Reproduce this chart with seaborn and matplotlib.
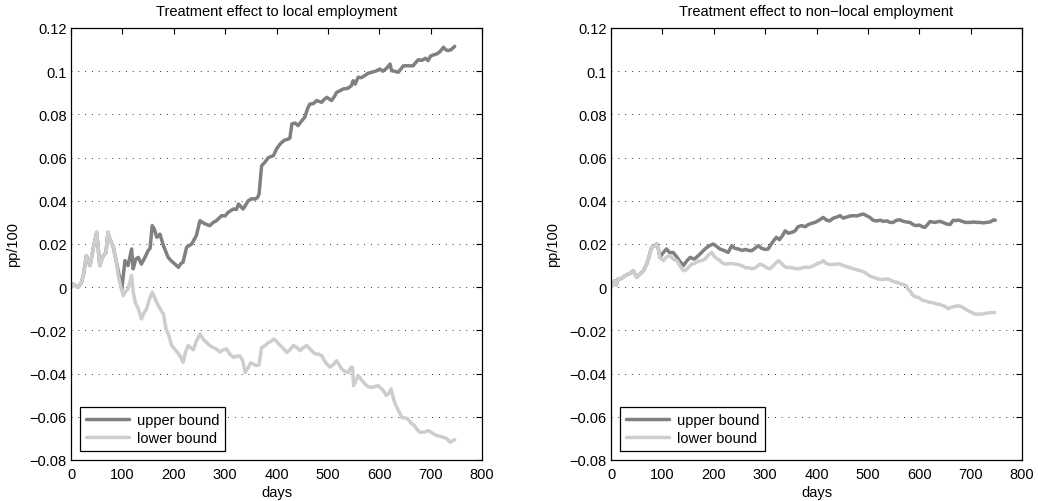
import matplotlib
matplotlib.use("Agg")
import matplotlib.pyplot as plt
from matplotlib.ticker import FuncFormatter, MultipleLocator
import pandas as pd
import seaborn as sns

# ---------------------------------------------------------------------------
# Data: treatment-effect bounds (pp/100) by days since treatment
# ---------------------------------------------------------------------------
# Local employment: both bounds coincide over the first weeks
local_shared_days = [0, 4, 10, 14, 20, 24, 30, 37, 43, 50, 53, 56, 60, 63, 68, 72, 76]
local_shared_values = [0.000, 0.0015, 0.0005, 0.000, 0.002, 0.0054, 0.0146, 0.010, 0.0177,
                       0.0254, 0.018, 0.010, 0.013, 0.0146, 0.016, 0.0254, 0.022]

local_upper_days = [82, 88, 95, 99, 105, 111, 118, 121, 126, 131, 137, 144, 150, 154, 158,
                    162, 167, 173, 180, 189, 196, 202, 209, 214, 218, 225, 235, 244, 251,
                    256, 261, 270, 277, 283, 293, 300, 306, 316, 322, 326, 335, 345, 352,
                    358, 363, 366, 371, 378, 384, 394, 400, 407, 415, 423, 426, 430, 436,
                    442, 449, 455, 461, 465, 472, 478, 483, 488, 493, 498, 507, 512, 517,
                    524, 530, 538, 546, 549, 553, 559, 565, 572, 578, 585, 593, 601, 607,
                    614, 621, 624, 630, 637, 642, 647, 654, 660, 666, 671, 676, 683, 690,
                    695, 700, 705, 712, 718, 725, 729, 734, 740, 747]
local_upper_values = [0.019, 0.012, 0.004, -0.0008, 0.0123, 0.010, 0.0177, 0.0085, 0.013,
                      0.0138, 0.0107, 0.0138, 0.0169, 0.018, 0.0285, 0.027, 0.0231, 0.0246,
                      0.0192, 0.0138, 0.012, 0.0108, 0.0092, 0.011, 0.0115, 0.0185, 0.020,
                      0.0239, 0.0308, 0.030, 0.0293, 0.0285, 0.030, 0.0308, 0.0331, 0.033,
                      0.0347, 0.0362, 0.036, 0.0385, 0.0362, 0.040, 0.041, 0.0408, 0.0415,
                      0.043, 0.0562, 0.058, 0.060, 0.0609, 0.064, 0.0663, 0.068, 0.0686,
                      0.069, 0.0756, 0.076, 0.0748, 0.077, 0.0787, 0.083, 0.0848, 0.085,
                      0.0864, 0.086, 0.0856, 0.087, 0.0879, 0.0864, 0.088, 0.0902, 0.091,
                      0.0918, 0.092, 0.0933, 0.0956, 0.094, 0.0972, 0.097, 0.098, 0.099,
                      0.0995, 0.100, 0.101, 0.100, 0.1013, 0.1033, 0.1002, 0.100, 0.0995,
                      0.101, 0.1025, 0.1025, 0.1025, 0.1025, 0.104, 0.1053, 0.105, 0.106,
                      0.1049, 0.107, 0.1075, 0.108, 0.109, 0.1111, 0.110, 0.1095, 0.110,
                      0.1115]

local_lower_days = [82, 88, 92, 97, 102, 106, 111, 118, 121, 125, 131, 137, 142, 147, 152,
                    158, 163, 170, 176, 180, 185, 190, 196, 203, 212, 218, 223, 228, 233,
                    238, 244, 251, 257, 264, 270, 277, 283, 290, 296, 303, 309, 316, 322,
                    329, 334, 339, 345, 350, 355, 361, 366, 371, 378, 384, 390, 394, 400,
                    404, 412, 420, 426, 433, 440, 446, 452, 459, 467, 475, 482, 488, 493,
                    498, 504, 510, 517, 522, 527, 533, 540, 545, 548, 550, 555, 559, 566,
                    572, 578, 585, 591, 598, 604, 608, 614, 619, 623, 627, 631, 637, 644,
                    650, 656, 662, 668, 673, 678, 683, 690, 695, 700, 706, 712, 718, 725,
                    731, 738, 743, 747]
local_lower_values = [0.0192, 0.012, 0.0054, 0.000, -0.0039, -0.002, -0.0008, 0.0054,
                      -0.002, -0.0070, -0.010, -0.0147, -0.012, -0.0101, -0.006, -0.0024,
                      -0.005, -0.0086, -0.011, -0.0124, -0.0194, -0.022, -0.027, -0.029,
                      -0.0317, -0.0348, -0.030, -0.027, -0.028, -0.029, -0.025, -0.0217,
                      -0.024, -0.0256, -0.027, -0.028, -0.0286, -0.030, -0.029, -0.0286,
                      -0.031, -0.0325, -0.032, -0.0318, -0.034, -0.0395, -0.037, -0.035,
                      -0.0356, -0.0363, -0.036, -0.0279, -0.027, -0.0256, -0.025, -0.024,
                      -0.025, -0.0263, -0.028, -0.0302, -0.029, -0.027, -0.028, -0.0294,
                      -0.028, -0.027, -0.029, -0.0309, -0.031, -0.0317, -0.034, -0.0356,
                      -0.037, -0.036, -0.034, -0.036, -0.0379, -0.039, -0.0395, -0.037,
                      -0.0371, -0.0456, -0.043, -0.041, -0.043, -0.0448, -0.046, -0.0464,
                      -0.046, -0.0456, -0.047, -0.0479, -0.0502, -0.049, -0.0471, -0.051,
                      -0.0541, -0.057, -0.0603, -0.0605, -0.061, -0.063, -0.064, -0.0656,
                      -0.067, -0.0672, -0.067, -0.0664, -0.067, -0.068, -0.0687, -0.069,
                      -0.0695, -0.070, -0.0718, -0.071, -0.0706]

# Non-local employment: both bounds coincide over the first three months
nonlocal_shared_days = [0, 4, 7, 10, 14, 20, 27, 33, 38, 43, 47, 50, 56, 63, 70, 75, 79,
                        84, 89, 92, 95]
nonlocal_shared_values = [0.000, 0.0015, 0.003, 0.001, 0.0038, 0.004, 0.0053, 0.006,
                          0.0065, 0.0076, 0.006, 0.0046, 0.006, 0.0076, 0.011, 0.015,
                          0.0184, 0.019, 0.020, 0.018, 0.0138]

nonlocal_upper_days = [102, 108, 114, 121, 128, 134, 141, 147, 154, 162, 170, 176, 183, 190,
                       199, 205, 212, 220, 228, 235, 241, 248, 255, 262, 268, 274, 280, 287,
                       293, 300, 306, 312, 318, 322, 328, 334, 339, 345, 352, 358, 364, 371,
                       378, 384, 390, 397, 405, 413, 420, 426, 433, 440, 446, 452, 459, 466,
                       472, 478, 485, 491, 498, 504, 510, 517, 524, 530, 537, 543, 549, 556,
                       562, 569, 575, 582, 588, 594, 600, 606, 611, 616, 621, 630, 640, 646,
                       653, 660, 666, 672, 676, 683, 690, 699, 706, 712, 718, 725, 731, 738,
                       745, 748]
nonlocal_upper_values = [0.0161, 0.0177, 0.016, 0.0161, 0.014, 0.012, 0.010, 0.012, 0.0138,
                         0.013, 0.0146, 0.016, 0.0177, 0.019, 0.020, 0.019, 0.0177, 0.017,
                         0.0161, 0.0192, 0.018, 0.0177, 0.017, 0.0175, 0.017, 0.0169, 0.018,
                         0.0192, 0.018, 0.0175, 0.0177, 0.020, 0.022, 0.0231, 0.022, 0.024,
                         0.0261, 0.025, 0.0254, 0.026, 0.028, 0.0285, 0.028, 0.029, 0.0295,
                         0.030, 0.031, 0.0323, 0.031, 0.0307, 0.032, 0.0325, 0.0331, 0.032,
                         0.0325, 0.033, 0.0331, 0.033, 0.0335, 0.0339, 0.033, 0.0323, 0.031,
                         0.0307, 0.031, 0.0305, 0.0307, 0.030, 0.030, 0.031, 0.0312, 0.0305,
                         0.0302, 0.030, 0.029, 0.0285, 0.0288, 0.028, 0.0277, 0.029, 0.0304,
                         0.030, 0.0305, 0.030, 0.0293, 0.029, 0.031, 0.0308, 0.0311, 0.0305,
                         0.030, 0.030, 0.0302, 0.030, 0.030, 0.0298, 0.030, 0.0302, 0.0312,
                         0.031]

nonlocal_lower_days = [102, 108, 115, 121, 128, 134, 140, 144, 150, 157, 163, 170, 176, 183,
                       190, 196, 202, 208, 212, 218, 225, 233, 241, 248, 254, 262, 268, 274,
                       281, 290, 297, 303, 309, 316, 322, 326, 332, 338, 342, 348, 355, 364,
                       370, 377, 387, 395, 402, 409, 413, 419, 426, 433, 440, 446, 452, 459,
                       466, 472, 480, 487, 494, 498, 505, 512, 520, 527, 533, 539, 546, 551,
                       556, 561, 565, 570, 575, 578, 583, 588, 594, 598, 603, 608, 614, 620,
                       627, 634, 640, 646, 653, 656, 660, 667, 675, 682, 689, 695, 701, 708,
                       715, 724, 731, 738, 747]
nonlocal_lower_values = [0.0123, 0.014, 0.0146, 0.013, 0.0123, 0.010, 0.008, 0.0076, 0.009,
                         0.0107, 0.011, 0.012, 0.0123, 0.013, 0.015, 0.0161, 0.014, 0.013,
                         0.0123, 0.011, 0.0107, 0.011, 0.0107, 0.0105, 0.010, 0.009, 0.009,
                         0.0085, 0.009, 0.0107, 0.010, 0.009, 0.0085, 0.010, 0.0115, 0.0123,
                         0.011, 0.0095, 0.0092, 0.0092, 0.0088, 0.0085, 0.0088, 0.0092,
                         0.0092, 0.010, 0.011, 0.0115, 0.0123, 0.011, 0.0105, 0.0105, 0.0108,
                         0.0107, 0.010, 0.0095, 0.009, 0.0085, 0.008, 0.0075, 0.0069, 0.0061,
                         0.005, 0.0045, 0.0038, 0.0035, 0.0038, 0.0038, 0.003, 0.0025,
                         0.0023, 0.0018, 0.0015, 0.0012, 0.0007, -0.0008, -0.002, -0.0039,
                         -0.0045, -0.0047, -0.0055, -0.0062, -0.0065, -0.007, -0.0072,
                         -0.0078, -0.008, -0.0085, -0.0093, -0.010, -0.0095, -0.009, -0.0086,
                         -0.009, -0.010, -0.0109, -0.0115, -0.0124, -0.0125, -0.0124, -0.012,
                         -0.0118, -0.0117]

panel_titles = ["Treatment effect to local employment",
                "Treatment effect to non\u2212local employment"]
series_labels = ["upper bound", "lower bound"]
x_label = "days"
y_label = "pp/100"

# ---------------------------------------------------------------------------
# Styling
# ---------------------------------------------------------------------------
sns.set_style("white")
plt.rcParams["font.family"] = ["Liberation Sans", "DejaVu Sans"]
plt.rcParams.update({
    "font.size": 10.5,
    "axes.edgecolor": "black",
    "axes.linewidth": 0.9,
    "xtick.color": "black",
    "ytick.color": "black",
    "text.color": "black",
    "axes.labelcolor": "black",
})

UPPER_COLOR = "#808080"
LOWER_COLOR = "#cdcdcd"
LINE_WIDTH = 2.5


def tick_fmt(v, _pos):
    v = round(v, 6)
    if v == 0:
        return "0"
    return ("%g" % v).replace("-", "\u2212")


def build_frame(shared_d, shared_v, upper_d, upper_v, lower_d, lower_v):
    upper = pd.DataFrame({"day": shared_d + upper_d, "value": shared_v + upper_v,
                          "bound": series_labels[0]})
    lower = pd.DataFrame({"day": shared_d + lower_d, "value": shared_v + lower_v,
                          "bound": series_labels[1]})
    return upper, lower


panels = [
    build_frame(local_shared_days, local_shared_values, local_upper_days,
                local_upper_values, local_lower_days, local_lower_values),
    build_frame(nonlocal_shared_days, nonlocal_shared_values, nonlocal_upper_days,
                nonlocal_upper_values, nonlocal_lower_days, nonlocal_lower_values),
]

fig = plt.figure(figsize=(10.38, 5.02), dpi=100)
axes = [fig.add_axes([71 / 1038, 41 / 502, 411 / 1038, 432 / 502]),
        fig.add_axes([611 / 1038, 41 / 502, 411 / 1038, 432 / 502])]

for ax, (upper, lower), title in zip(axes, panels, panel_titles):
    sns.lineplot(data=upper, x="day", y="value", ax=ax, color=UPPER_COLOR,
                 linewidth=LINE_WIDTH, label=series_labels[0], estimator=None)
    sns.lineplot(data=lower, x="day", y="value", ax=ax, color=LOWER_COLOR,
                 linewidth=LINE_WIDTH, label=series_labels[1], estimator=None)

    ax.set_xlim(0, 800)
    ax.set_ylim(-0.08, 0.12)
    ax.xaxis.set_major_locator(MultipleLocator(100))
    ax.yaxis.set_major_locator(MultipleLocator(0.02))
    ax.yaxis.set_major_formatter(FuncFormatter(tick_fmt))
    ax.xaxis.set_major_formatter(FuncFormatter(tick_fmt))
    ax.tick_params(direction="in", length=4, width=0.8, top=True, right=True,
                   labelsize=10.5)
    ax.tick_params(axis="x", pad=5)
    ax.tick_params(axis="y", pad=3)

    ax.yaxis.grid(True, linestyle=(0, (1, 6)), linewidth=0.7, color="#303030")
    ax.xaxis.grid(False)
    ax.set_axisbelow(True)
    for spine in ax.spines.values():
        spine.set_visible(True)
        spine.set_color("black")

    ax.set_title(title, fontsize=10.5, pad=9)
    ax.set_xlabel(x_label, fontsize=10.5, labelpad=3)
    ax.set_ylabel(y_label, fontsize=10.5, labelpad=7)

    leg = ax.legend(loc="lower left", fontsize=10.5, frameon=True, fancybox=False,
                    edgecolor="black", framealpha=1, borderaxespad=0.6,
                    handlelength=3.0, handletextpad=0.5, labelspacing=0.3,
                    borderpad=0.4)
    leg.get_frame().set_linewidth(0.9)

fig.savefig("out.png", dpi=100)
